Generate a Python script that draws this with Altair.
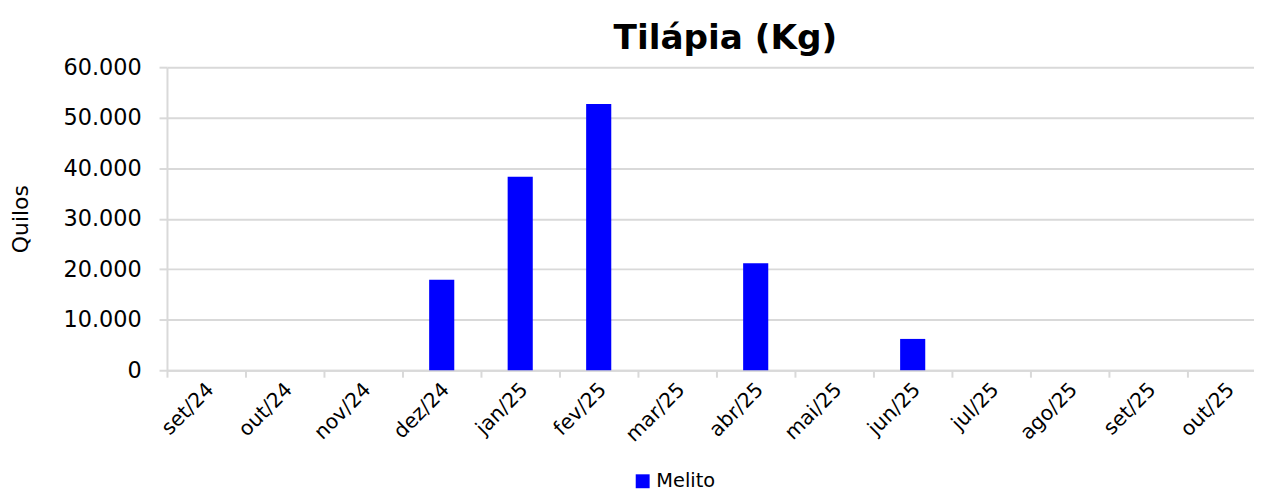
import altair as alt
import pandas as pd

months = ["set/24", "out/24", "nov/24", "dez/24", "jan/25", "fev/25", "mar/25",
          "abr/25", "mai/25", "jun/25", "jul/25", "ago/25", "set/25", "out/25"]
melito = [0, 0, 0, 17900, 38300, 52700, 0, 21200, 0, 6200, 0, 0, 0, 0]
series_name = ["Melito"]
y_ticks = [0, 10000, 20000, 30000, 40000, 50000, 60000]

df = pd.DataFrame({"mes": months, "quilos": melito, "serie": series_name * len(months)})

FONT = "DejaVu Sans"
GRID = "#d9d9d9"

chart = alt.Chart(df).mark_bar(color="#0000ff").encode(
    x=alt.X("mes:N", sort=months,
            scale=alt.Scale(range=[0, 1106], paddingInner=0.68, paddingOuter=0.34),
            axis=alt.Axis(title=None, labelAngle=-45, labelAlign="right", labelBaseline="middle",
                          labelFontSize=20.5, labelFont=FONT, labelColor="black",
                          bandPosition=0, tickOffset=-26.9, labelOffset=31, labelPadding=9,
                          tickSize=7, tickColor=GRID, tickWidth=2,
                          domainColor=GRID, domainWidth=2, grid=False,
                          labelOverlap=False, labelBound=False)),
    y=alt.Y("quilos:Q",
            scale=alt.Scale(domain=[0, 60000], nice=False),
            axis=alt.Axis(title="Quilos", values=y_ticks,
                          labelExpr="replace(format(datum.value, ','), regexp(',', 'g'), '.')",
                          labelFontSize=22.5, labelFont=FONT, labelColor="black",
                          labelPadding=18, tickSize=8, tickColor=GRID, tickWidth=2,
                          domainColor=GRID, domainWidth=2,
                          grid=True, gridColor=GRID, gridWidth=2,
                          titleFontSize=22, titleFont=FONT, titleFontWeight="normal",
                          titleColor="black", titleX=-135, titleBaseline="bottom")),
    color=alt.Color("serie:N",
                    scale=alt.Scale(domain=series_name, range=["#0000ff"]),
                    legend=alt.Legend(title=None, orient="none", legendX=469, legendY=407,
                                      symbolType="square", symbolSize=196, symbolStrokeWidth=0,
                                      labelFontSize=19.5, labelFont=FONT, labelColor="black",
                                      labelOffset=4, padding=0)),
).properties(
    width=1094,
    height=305,
    title=alt.Title("Tilápia (Kg)", fontSize=34.5, font=FONT, fontWeight="bold",
                    anchor="middle", dx=15, offset=-27, baseline="alphabetic", color="black"),
    autosize=alt.AutoSizeParams(type="none"),
    padding={"left": 160, "top": 58, "right": 0, "bottom": 122},
).configure_view(stroke=None)

chart.save("out.html", embed_options={"renderer": "svg", "actions": False})
